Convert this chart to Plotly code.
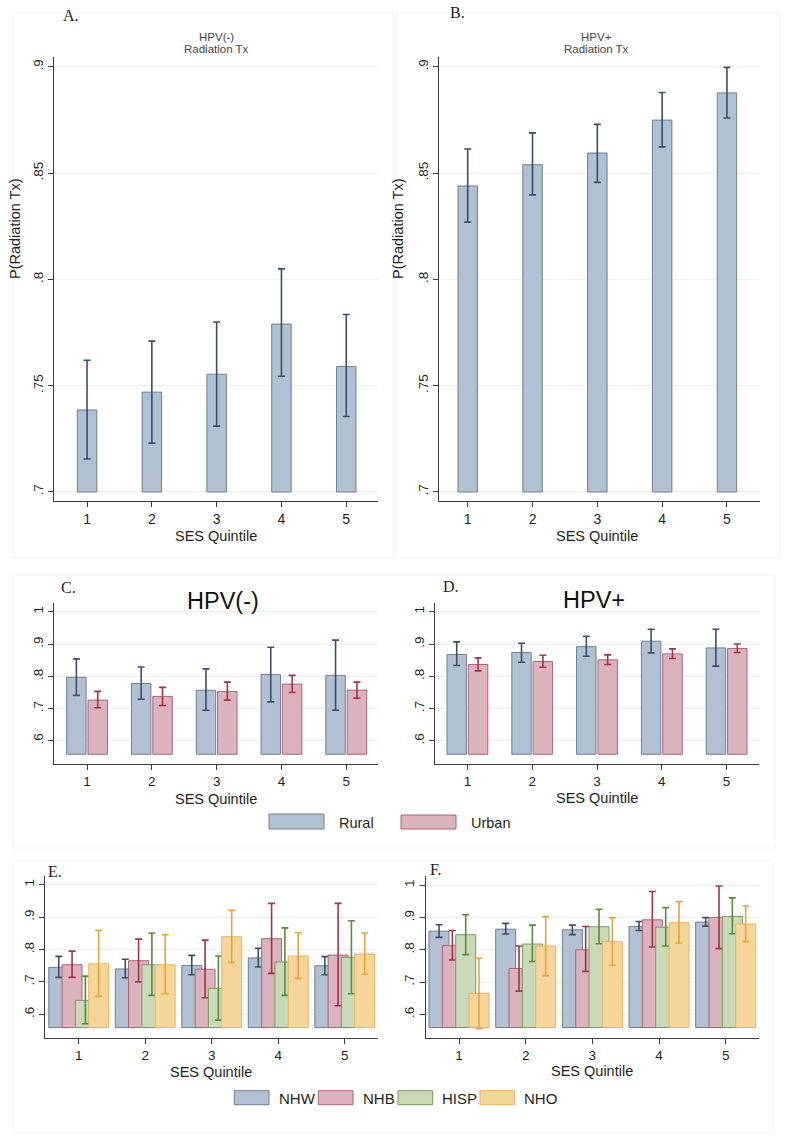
import plotly.graph_objects as go

W, H = 787, 1147

# ---------------- data ----------------
QUINTILES = [1, 2, 3, 4, 5]

A_est = [0.7386, 0.747, 0.7554, 0.779, 0.759]
A_hi = [0.762, 0.771, 0.780, 0.805, 0.7835]
A_lo = [0.7155, 0.723, 0.731, 0.7545, 0.7355]

B_est = [0.844, 0.854, 0.8595, 0.875, 0.8878]
B_hi = [0.8614, 0.869, 0.873, 0.888, 0.8998]
B_lo = [0.827, 0.8398, 0.8457, 0.8624, 0.876]

C_rural_est = [0.797, 0.778, 0.757, 0.806, 0.803]
C_rural_hi = [0.854, 0.829, 0.823, 0.890, 0.912]
C_rural_lo = [0.741, 0.729, 0.695, 0.721, 0.695]
C_urban_est = [0.7265, 0.738, 0.7534, 0.776, 0.7574]
C_urban_hi = [0.7534, 0.766, 0.782, 0.803, 0.782]
C_urban_lo = [0.703, 0.710, 0.7265, 0.750, 0.7327]

D_rural_est = [0.8675, 0.8737, 0.892, 0.9086, 0.888]
D_rural_hi = [0.9065, 0.9025, 0.924, 0.9457, 0.9457]
D_rural_lo = [0.8336, 0.8438, 0.862, 0.8725, 0.8315]
D_urban_est = [0.8367, 0.846, 0.851, 0.8695, 0.886]
D_urban_hi = [0.857, 0.8654, 0.8664, 0.885, 0.900]
D_urban_lo = [0.817, 0.828, 0.8367, 0.855, 0.8737]

E_nhw_est = [0.745, 0.740, 0.751, 0.774, 0.750]
E_nhw_hi = [0.779, 0.770, 0.782, 0.804, 0.778]
E_nhw_lo = [0.714, 0.713, 0.722, 0.746, 0.722]
E_nhb_est = [0.753, 0.7655, 0.739, 0.8334, 0.783]
E_nhb_hi = [0.795, 0.832, 0.829, 0.9426, 0.9426]
E_nhb_lo = [0.714, 0.700, 0.651, 0.7265, 0.6265]
E_hisp_est = [0.643, 0.753, 0.680, 0.7614, 0.776]
E_hisp_hi = [0.718, 0.851, 0.780, 0.867, 0.889]
E_hisp_lo = [0.571, 0.6586, 0.582, 0.6586, 0.6636]
E_nho_est = [0.756, 0.753, 0.8395, 0.780, 0.786]
E_nho_hi = [0.859, 0.846, 0.921, 0.852, 0.851]
E_nho_lo = [0.6555, 0.6636, 0.760, 0.711, 0.7235]

F_nhw_est = [0.858, 0.864, 0.862, 0.8725, 0.886]
F_nhw_hi = [0.8778, 0.882, 0.8766, 0.888, 0.900]
F_nhw_lo = [0.8386, 0.849, 0.847, 0.860, 0.8735]
F_nhb_est = [0.813, 0.742, 0.800, 0.893, 0.900]
F_nhb_hi = [0.860, 0.812, 0.8725, 0.981, 0.998]
F_nhb_lo = [0.7685, 0.672, 0.733, 0.8087, 0.8037]
F_hisp_est = [0.847, 0.818, 0.8716, 0.870, 0.9034]
F_hisp_hi = [0.9086, 0.8766, 0.926, 0.931, 0.961]
F_hisp_lo = [0.785, 0.7636, 0.819, 0.812, 0.850]
F_nho_est = [0.665, 0.812, 0.8253, 0.884, 0.880]
F_nho_hi = [0.774, 0.903, 0.900, 0.949, 0.936]
F_nho_lo = [0.5556, 0.720, 0.752, 0.821, 0.8253]

AB_ytickvals = [0.7, 0.75, 0.8, 0.85, 0.9]
AB_yticktext = [".7", ".75", ".8", ".85", ".9"]
CF_ytickvals = [0.6, 0.7, 0.8, 0.9, 1.0]
CF_yticktext = [".6", ".7", ".8", ".9", "1"]

AB_BASE = 0.7
CF_BASE = 0.559

# ---------------- styles ----------------
COL = {
    "blue": dict(fill="#b2c1d2", line="#6b7e99", err="#3b4f6b"),
    "pink": dict(fill="#dbb3bc", line="#b06273", err="#a3334a"),
    "green": dict(fill="#cadab8", line="#7d9b60", err="#5c8a3b"),
    "orange": dict(fill="#f6d59b", line="#e9b062", err="#e8a33a"),
}
SANS = "Liberation Sans, Arial, sans-serif"
SERIF = "Liberation Serif, Times New Roman, serif"


def fx(px):
    return px / W


def fy(py):
    return 1 - py / H


fig = go.Figure()


def add_bars(axn, est, hi, lo, base, color, width, offset):
    c = COL[color]
    fig.add_trace(go.Bar(
        x=QUINTILES,
        y=[e - base for e in est],
        base=base,
        width=width,
        offset=offset,
        marker=dict(color=c["fill"], line=dict(color=c["line"], width=1)),
        error_y=dict(type="data", symmetric=False,
                     array=[h - e for h, e in zip(hi, est)],
                     arrayminus=[e - l for e, l in zip(est, lo)],
                     color=c["err"], thickness=1.6, width=3.5),
        xaxis="x" if axn == 1 else f"x{axn}",
        yaxis="y" if axn == 1 else f"y{axn}",
        showlegend=False,
        hoverinfo="skip",
    ))


# A, B
add_bars(1, A_est, A_hi, A_lo, AB_BASE, "blue", 0.3, -0.15)
add_bars(2, B_est, B_hi, B_lo, AB_BASE, "blue", 0.3, -0.15)
# C, D
add_bars(3, C_rural_est, C_rural_hi, C_rural_lo, CF_BASE, "blue", 0.3, -0.315)
add_bars(3, C_urban_est, C_urban_hi, C_urban_lo, CF_BASE, "pink", 0.3, 0.015)
add_bars(4, D_rural_est, D_rural_hi, D_rural_lo, CF_BASE, "blue", 0.3, -0.315)
add_bars(4, D_urban_est, D_urban_hi, D_urban_lo, CF_BASE, "pink", 0.3, 0.015)
# E, F
for axn, groups in [
    (5, [(E_nhw_est, E_nhw_hi, E_nhw_lo, "blue"), (E_nhb_est, E_nhb_hi, E_nhb_lo, "pink"),
         (E_hisp_est, E_hisp_hi, E_hisp_lo, "green"), (E_nho_est, E_nho_hi, E_nho_lo, "orange")]),
    (6, [(F_nhw_est, F_nhw_hi, F_nhw_lo, "blue"), (F_nhb_est, F_nhb_hi, F_nhb_lo, "pink"),
         (F_hisp_est, F_hisp_hi, F_hisp_lo, "green"), (F_nho_est, F_nho_hi, F_nho_lo, "orange")]),
]:
    for i, (e, h, l, c) in enumerate(groups):
        add_bars(axn, e, h, l, CF_BASE, c, 0.3, -0.45 + 0.2 * i)

AXC = "#3c3c3c"


def xax(px0, px1, rng, ypx, anchor, size):
    return dict(domain=[fx(px0), fx(px1)], range=rng, anchor=anchor,
                tickvals=QUINTILES, ticktext=[str(q) for q in QUINTILES],
                showline=True, linecolor=AXC, linewidth=1, ticks="outside",
                ticklen=5, tickcolor=AXC, tickwidth=1, showgrid=False, zeroline=False,
                tickfont=dict(family=SANS, size=size, color="#1e1e1e"), fixedrange=True)


def yax(py_top, py_bot, rng, anchor, vals, texts, size):
    return dict(domain=[fy(py_bot), fy(py_top)], range=rng, anchor=anchor,
                tickvals=vals, ticktext=texts, tickangle=-90,
                showline=True, linecolor=AXC, linewidth=1, ticks="outside",
                ticklen=5, tickcolor=AXC, tickwidth=1, showgrid=True,
                gridcolor="#f0f0f0", gridwidth=1, zeroline=False,
                tickfont=dict(family=SANS, size=size, color="#1e1e1e"), fixedrange=True)


layout = dict(
    width=W, height=H, margin=dict(l=0, r=0, t=0, b=0),
    paper_bgcolor="white", plot_bgcolor="white", barmode="overlay",
    showlegend=False,
    xaxis=xax(54, 378, [0.49, 5.49], 501, "y", 14),
    yaxis=yax(57, 501, [0.69576, 0.9047], "x", AB_ytickvals, AB_yticktext, 13.5),
    xaxis2=xax(439, 760, [0.557, 5.51], 501, "y2", 14),
    yaxis2=yax(57, 501, [0.69576, 0.9047], "x2", AB_ytickvals, AB_yticktext, 13.5),
    xaxis3=xax(54, 378, [0.49, 5.49], 764, "y3", 13.5),
    yaxis3=yax(603.3, 764, [0.5288, 1.026], "x3", CF_ytickvals, CF_yticktext, 13.5),
    xaxis4=xax(435, 759, [0.5, 5.5], 764, "y4", 13.5),
    yaxis4=yax(603.3, 764, [0.5288, 1.026], "x4", CF_ytickvals, CF_yticktext, 13.5),
    xaxis5=xax(45, 378, [0.493, 5.5], 1037.7, "y5", 13.5),
    yaxis5=yax(876, 1037.7, [0.5278, 1.027], "x5", CF_ytickvals, CF_yticktext, 13.5),
    xaxis6=xax(425.7, 759, [0.5, 5.5], 1037.7, "y6", 13.5),
    yaxis6=yax(876, 1037.7, [0.5274, 1.029], "x6", CF_ytickvals, CF_yticktext, 13.5),
)
fig.update_layout(**layout)

ann = []


def text(s, px, py, size, family=SANS, color="#1e1e1e", xanchor="center", angle=0):
    ann.append(dict(text=s, x=fx(px), y=fy(py), xref="paper", yref="paper",
                    showarrow=False, xanchor=xanchor, yanchor="middle",
                    font=dict(family=family, size=size, color=color), textangle=angle))


# panel letters
text("A.", 71, 16, 16, SERIF)
text("B.", 457, 12, 16, SERIF)
text("C.", 68.5, 587, 16, SERIF)
text("D.", 451, 586.5, 16, SERIF)
text("E.", 55, 871.5, 16, SERIF)
text("F.", 436, 869, 16, SERIF)

# subtitles A / B
text("HPV(-)", 216.7, 37.5, 11.5, color="#444444")
text("Radiation Tx", 216.7, 49, 11.5, color="#444444")
text("HPV+", 596.7, 37.5, 11.5, color="#444444")
text("Radiation Tx", 596.7, 49, 11.5, color="#444444")

# big titles C / D
text("HPV(-)", 223.5, 601, 23.5, color="#111111")
text("HPV+", 594, 600, 23.5, color="#111111")

# y titles
text("P(Radiation Tx)", 15, 229, 14.5, angle=-90)
text("P(Radiation Tx)", 398, 229, 14.5, angle=-90)

# x titles
for px, py in [(216, 535.5), (597, 535.5), (216, 798.5), (596.7, 797.5), (211.3, 1072), (592.2, 1071)]:
    text("SES Quintile", px, py, 14.5)

# legends
shapes = []


def swatch(x0, y0, x1, y1, color):
    c = COL[color]
    shapes.append(dict(type="rect", xref="paper", yref="paper", x0=fx(x0), x1=fx(x1),
                       y0=fy(y1), y1=fy(y0), fillcolor=c["fill"],
                       line=dict(color=c["line"], width=1)))


swatch(269, 814, 324, 829, "blue")
text("Rural", 337, 822.5, 14.5, xanchor="left")
swatch(401, 815, 456, 829, "pink")
text("Urban", 469, 822.5, 14.5, xanchor="left")

for x0, lbl, c in [(234.3, "NHW", "blue"), (318.3, "NHB", "pink"),
                   (398, "HISP", "green"), (480, "NHO", "orange")]:
    swatch(x0, 1090.7, x0 + 34.7, 1104.7, c)
    text(lbl, x0 + 42.4, 1098.5, 15, xanchor="left")

# faint panel frames
for x0, y0, x1, y1 in [(13, 13, 393, 558), (396, 13, 780, 558),
                       (13, 575, 775, 848), (13, 861, 773, 1133)]:
    shapes.append(dict(type="rect", xref="paper", yref="paper", x0=fx(x0), x1=fx(x1),
                       y0=fy(y1), y1=fy(y0), line=dict(color="#f1f1f1", width=1),
                       fillcolor="rgba(0,0,0,0)", layer="below"))

fig.update_layout(annotations=ann, shapes=shapes)
fig.write_html("out.html")
